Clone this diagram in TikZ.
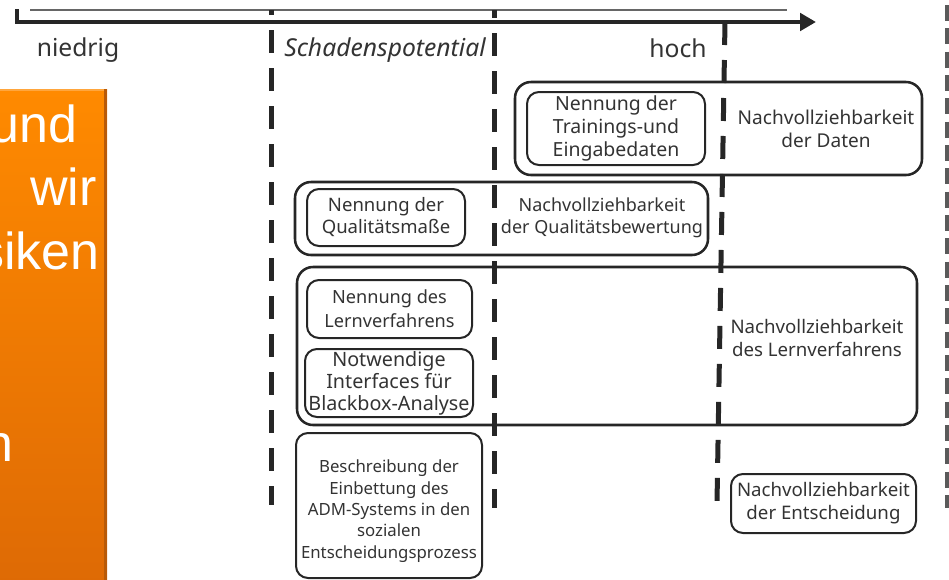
\documentclass[tikz,border=0pt]{standalone}
\usepackage{fontspec}
\setmainfont{Noto Sans}
\newfontfamily\slidefont{Liberation Sans}
\usetikzlibrary{arrows.meta,fit}

\definecolor{ink}{HTML}{262626}
\definecolor{txt}{HTML}{333333}
\definecolor{orangetop}{HTML}{FF8A00}
\definecolor{orangebot}{HTML}{DE6A05}
\definecolor{orangeedge}{HTML}{B85A08}
\definecolor{marks}{HTML}{5A5A5A}

\begin{document}
\begin{tikzpicture}[x=0.75pt,y=-0.75pt,
  outerbox/.style={draw=ink, line width=1.9pt, rounded corners=12pt, inner sep=0pt},
  innerbox/.style={draw=ink, line width=1.5pt, rounded corners=9pt, inner sep=0pt,
                   align=center, text=txt, font=\fontsize{14}{17.25}\selectfont},
  label/.style={inner sep=0pt, align=center, text=txt, font=\fontsize{14}{17.25}\selectfont},
  axislabel/.style={inner sep=0pt, text=txt, font=\fontsize{18.5}{22}\selectfont},
  boundary/.style={draw=ink, line width=3.75pt, dash pattern=on 17.25pt off 11.25pt},
  slidetext/.style={anchor=base east, inner sep=0pt, text=white,
                    font=\slidefont\fontsize{39}{47}\selectfont}
]
\useasboundingbox (0,0) rectangle (949,579);

% orange slide panel on the left
\begin{scope}
  \clip (0,89) rectangle (107,579);
  \shade[top color=orangetop, bottom color=orangebot] (-5,89) rectangle (107,585);
  \fill[orangeedge] (104,89) rectangle (107,585);
  \fill[orangetop!60!white, opacity=0.6] (-5,89) rectangle (104,91);
  \node[slidetext] (s1) at (78,142) {und};
  \node[slidetext] (s2) at (97,205) {wir};
  \node[slidetext] (s3) at (100,269) {siken};
  \node[slidetext] (s4) at (14,461) {n};
\end{scope}

% dotted margin on the right
\coordinate (mtop) at (947,5);
\coordinate (mbot) at (947,508);
\draw[marks, line width=2.8pt, dash pattern=on 12pt off 5.5pt] (mtop) -- (mbot);

% axis
\coordinate (thinL) at (30,10);
\coordinate (thinR) at (787,10);
\coordinate (axTop) at (17,9);
\coordinate (axCorner) at (17,22);
\coordinate (axEnd) at (816,22);
\draw[black!60, line width=0.9pt] (thinL) -- (thinR);
\draw[ink, line width=3pt, -{Triangle[length=12pt,width=13pt]}] (axTop) -- (axCorner) -- (axEnd);

\node[axislabel] (low) at (78,50) {niedrig};
\node[axislabel, font=\fontsize{18.5}{22}\selectfont\itshape] (pot) at (385,50) {Schadenspotential};
\node[axislabel] (high) at (678,48) {hoch};

% data
\node[outerbox, fit={(515,82) (922,175)}] (datenbox) {};
\node[innerbox, minimum width=133.5pt, minimum height=54.75pt,
      font=\fontsize{14.6}{17.25}\selectfont] (trainbox) at (616,128.5)
  {Nennung der\\Trainings-und\\Eingabedaten};
\node[label, font=\fontsize{14.3}{17.25}\selectfont] (datentext) at (826,129) {Nachvollziehbarkeit\\der Daten};

% quality
\node[outerbox, fit={(295,182) (708,255)}] (qualbox) {};
\node[innerbox, minimum width=118.5pt, minimum height=42.75pt,
      font=\fontsize{13.9}{16.5}\selectfont] (massbox) at (386,217.5)
  {Nennung der\\Qualitätsmaße};
\node[label, font=\fontsize{13.5}{16.5}\selectfont] (qualtext) at (602,218) {Nachvollziehbarkeit\\der Qualitätsbewertung};

% learning method
\node[outerbox, fit={(297,267) (917,425)}] (lernbox) {};
\node[innerbox, minimum width=123.75pt, minimum height=43.5pt,
      font=\fontsize{13.6}{18}\selectfont] (nennlern) at (389.5,309)
  {Nennung des\\Lernverfahrens};
\node[innerbox, minimum width=126pt, minimum height=51pt,
      font=\fontsize{14.8}{16.5}\selectfont] (ifbox) at (389,383)
  {Notwendige\\Interfaces für\\Blackbox-Analyse};
\node[label] (lerntext) at (817,338) {Nachvollziehbarkeit\\des Lernverfahrens};

% embedding
\node[innerbox, minimum width=139.5pt, minimum height=108.75pt] (einbett) at (389,505.5) {};
\node[label, font=\fontsize{12.6}{16}\selectfont] (einbetttext) at (389,511)
  {Beschreibung der\\Einbettung des\\ADM-Systems in den\\sozialen\\Entscheidungsprozess};

% decision
\node[innerbox, minimum width=138.75pt, minimum height=44.25pt] (entsch) at (823.5,503.5)
  {Nachvollziehbarkeit\\der Entscheidung};

% risk thresholds
\coordinate (aTop) at (271,10);
\coordinate (aBot) at (271,505);
\coordinate (bTop) at (494,10);
\coordinate (bBot) at (494,508);
\coordinate (cTop) at (725,22);
\coordinate (cBot) at (717,503);
\draw[boundary, dash phase=13.5pt] (aTop) -- (aBot);
\draw[boundary, dash phase=11pt] (bTop) -- (bBot);
\draw[boundary] (cTop) -- (cBot);
\end{tikzpicture}
\end{document}
